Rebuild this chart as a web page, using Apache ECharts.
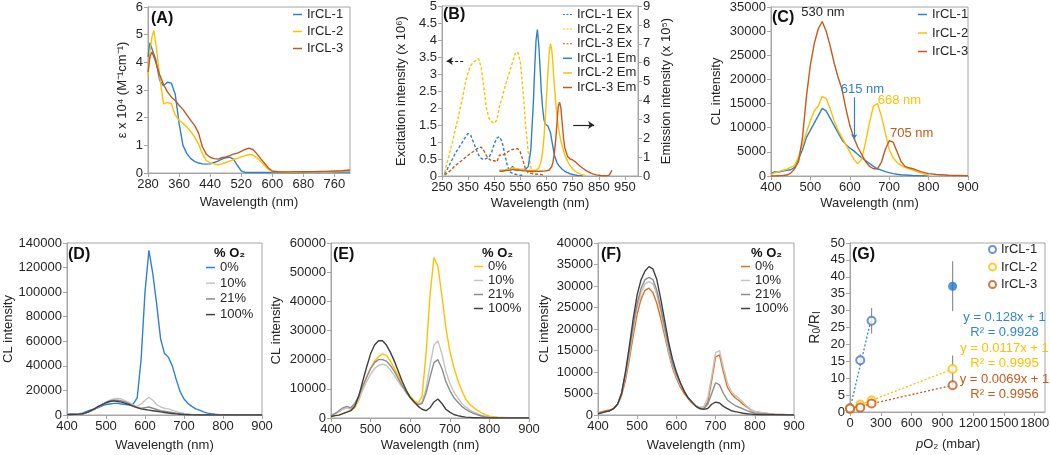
<!DOCTYPE html>
<html>
<head>
<meta charset="utf-8">
<style>
    body{ margin:0; padding:0; background:#fff; }
    #chart{ width:1050px; height:455px; }
</style>
</head>
<body>
<div id="chart"></div>
<script src="https://cdn.jsdelivr.net/npm/echarts@6/dist/echarts.min.js"></script>
<script>
// ---- (A) absorption, epsilon x 10^4 ----
var wlA = [280,285,290,295,300,310,320,330,340,350,360,370,380,390,400,410,420,430,440,450,460,470,480,490,500,510,520,530,540,550,560,570,580,590,600,620,640,660,680,700,720,740,760,780,800];
var absA1 = [4.2,4.7,4.5,4.45,4.1, 3.35,3.15,3.28,3.25,2.85,1.8,1.0,0.7,0.52,0.42, 0.36,0.33,0.32,0.33,0.38,0.43,0.5,0.55,0.57,0.5, 0.28,0.08,0.02,0.02,0.02,0.02,0.02,0.02,0.02,0.02, 0.02,0.02,0.02,0.02,0.03,0.03,0.05,0.03,0.03,0.03];
var absA2 = [3.5,4.4,4.9,5.15,4.7, 3.5,2.5,2.55,2.5,2.1,1.9,1.8,1.65,1.5,1.3, 1.05,0.7,0.45,0.37,0.33,0.3,0.33,0.38,0.43,0.48, 0.53,0.58,0.63,0.67,0.65,0.55,0.42,0.27,0.13,0.05, 0.04,0.03,0.03,0.04,0.04,0.05,0.06,0.05,0.08,0.12];
var absA3 = [3.65,4.2,4.37,4.2,4.0, 3.55,3.2,2.93,2.75,2.62,2.45,2.3,2.1,1.9,1.72, 1.45,0.95,0.68,0.57,0.52,0.5,0.55,0.58,0.63,0.68, 0.72,0.78,0.85,0.9,0.85,0.7,0.52,0.35,0.18,0.07, 0.04,0.04,0.05,0.05,0.05,0.06,0.06,0.07,0.08,0.1];

// ---- (B) excitation (x 10^6, left) and emission (x 10^5, right) ----
var wlBx = [250,260,270,280,290,300,310,320,330,340,350,360,370,380,390,400,410,420,430,440,450,460,470,480,490,500,510,520,530,540,550,560,570,580,590,600,610,620,630,640,650];
var exB1 = [null,0.05,0.2,0.35,0.5,0.65,0.78,0.9,1.02,1.15, 1.25,1.2,1.0,0.8,0.62,0.52,0.48,0.52,0.55,0.7, 0.95,1.12,1.15,1.0,0.65,0.3,0.12,0.08,0.05,0.03, 0.02,0.02,null,null,null,null,null,null,null,null,null];
var exB2 = [null,0.1,0.4,0.7,1.0,1.35,1.65,2.0,2.35,2.75, 3.05,3.25,3.35,3.4,3.45,3.2,2.6,2.0,1.7,1.6, 1.55,1.65,2.05,2.3,2.6,2.85,3.1,3.35,3.6,3.65, 3.35,2.5,1.5,0.7,0.25,0.05,null,null,null,null,null];
var exB3 = [null,0.03,0.08,0.15,0.22,0.3,0.36,0.42,0.48,0.55, 0.61,0.67,0.72,0.78,0.83,0.85,0.75,0.6,0.5,0.45, 0.45,0.42,0.62,0.6,0.65,0.7,0.75,0.78,0.8,0.8, 0.7,0.45,0.2,0.1,0.08,0.06,0.05,0.05,0.04,0.03,null];
var wlBm = [470,480,490,500,510,520,530,540,550,560,570,580,590,600, 605,610,615,620,625,630,635,640,645,650,655,660,665,670,675,680,685,690,695,700,705,710,715,720, 730,740,750,760,770,780,790,800,810,820,830,840,850,860,870,880,890,900];
var emB1 = [0.3,0.3,0.3,0.35,0.35,0.5,0.35,0.35,0.35,0.35,0.35,0.5,1.4,4.0, 5.8,7.2,7.75,7.0,5.8,4.5,3.6,3.0,2.75,2.7,2.65,2.6,2.3,1.9,1.5,1.1,0.9,0.7,0.6,0.5,0.42,0.36,0.3,0.25, 0.18,0.12,0.08,0.05,0.03,0.02,0.01,null,null,null,null,null,null,null,null,null,null,null];
var emB2 = [0.3,0.3,0.3,0.35,0.35,0.45,0.38,0.38,0.35,0.33,0.3,0.3,0.3,0.3, 0.3,0.32,0.35,0.4,0.5,0.8,1.3,2.0,3.0,4.2,5.4,6.5,7.0,6.7,5.8,4.8,3.9,3.2,2.6,2.2,1.85,1.6,1.35,1.1, 0.8,0.55,0.38,0.25,0.16,0.1,0.05,0.02,null,null,null,null,null,null,null,null,null,null];
var emB3 = [0.25,0.25,0.28,0.3,0.3,0.35,0.32,0.3,0.3,0.28,0.27,0.25,0.25,0.25, 0.25,0.25,0.25,0.25,0.25,0.25,0.25,0.26,0.27,0.28,0.3,0.32,0.38,0.5,0.75,1.2,1.9,2.8,3.7,3.9,3.6,2.8,2.0,1.5, 1.05,0.9,0.85,0.75,0.62,0.5,0.4,0.3,0.22,0.15,0.1,0.06,0.04,0.02,0.01,0.01,0.05,0.3];

// ---- (C)-(F) CL spectra, shared wavelength list ----
var wlS = [400,410,420,430,440,450,460,470,480,490,500,510,520,530,540,550,560,570,580,590,600,610,620,630,640,650,660,670,680,690,700,710,720,730,740,750,760,770,780,790,800,820,850,900];
var clC1 = [500,900,800,1000,1200,1300,1800,3500,5500,8000, 9500,11000,12500,14000,13500,12000,10500,9000,7500,6500, 5800,5200,4500,3800,3200,2600,2000,1500,1200,900, 700,500,350,250,200,150,100,80,60,40, 30,null,null,null];
var clC2 = [300,700,900,1200,1400,1800,2200,4000,6500,9000, 11500,13500,14500,16500,16000,14000,11500,9500,8000,6500, 5000,3500,2500,3500,7000,11000,14500,15000,12500,9000, 5500,3800,2800,2200,1800,1500,1200,900,600,400, 200,null,null,null];
var clC3 = [0,0,50,100,200,600,1500,3000,8000,16500, 23000,27500,30500,32000,30000,27000,23500,20500,18000,14000, 10500,8000,6000,4500,3000,2000,1500,1500,2800,5500, 7300,7000,5000,3000,2000,1700,1500,1200,900,700, 500,300,150,50];

var cdD0 = [500,800,800,1000,1500,3000,4000,5000,6000,7500, 8500,9000,9500,9500,9000,8500,8000,9000,14000,45000, 100000,134000,115000,90000,62000,50000,47000,40000,29000,19000, 13000,9500,7000,5000,4000,2500,1500,1000,600,300, 100,0,0,0];
var cdD10 = [500,500,600,800,1200,2000,3000,4500,6500,8500, 10500,12000,13000,13500,13000,11500,10000,8000,7000,9000, 12000,14500,12000,8500,6500,5500,5000,4000,3000,2000, 1200,800,400,200,100,100,50,50,0,0, 0,0,0,0];
var cdD21 = [300,400,500,700,1000,2000,3000,4500,6500,8500, 10000,11500,12000,12000,11500,10500,9000,7500,6000,5500, 6000,6500,5500,4500,3500,3000,2500,2000,1500,1000, 600,400,200,100,50,50,0,0,0,0, 0,0,0,0];
var cdD100 = [300,400,500,700,1000,2000,3500,5000,7000,8500, 10000,11000,11500,11000,10500,9500,8500,7000,6000,5000, 4500,4000,3500,3000,2500,2000,1600,1200,900,600, 400,250,100,50,0,0,0,0,0,0, 0,0,0,0];

var ceE0 = [500,800,1000,1500,2000,2500,3500,6000,10000,14000, 17000,19500,21000,22000,21500,19500,17000,14500,12000,9500, 7500,6000,5000,7500,22000,42000,55000,52000,42000,31000, 23000,17500,13000,9500,6500,4800,3600,2600,1800,1100, 600,300,100,0];
var ceE10 = [1000,1500,2000,3000,3500,3000,4000,6500,9500,12500, 15000,17000,18000,18500,18000,16500,14500,12500,10500,8500, 7000,5500,4500,5500,10000,18000,25000,26500,22000,16000, 12000,9000,7000,5000,3800,2800,2000,1400,900,500, 300,200,100,0];
var ceE21 = [800,1500,2500,3500,4000,3500,5000,7500,11000,14000, 17000,19000,20000,20000,19500,18000,16000,13500,11000,9000, 7000,5500,4500,5000,8500,14000,19000,20000,17000,12500, 9500,7000,5500,4000,3000,2200,1600,1100,700,400, 200,100,50,0];
var ceE100 = [500,800,1000,1500,2000,2500,4000,7500,12500,17500, 22000,25000,26500,26500,25000,22500,19500,16000,12500,9500, 7000,5500,4000,3000,2500,3500,5500,6500,5000,3000, 2000,1200,800,500,300,200,100,100,50,0, 0,0,0,0];

var cfF0 = [500,800,1000,1200,1500,2500,4500,8000,13000,18500, 23500,27000,29000,29500,28500,26000,22500,18500,14500,11000, 8500,6500,5000,3800,2800,2000,1500,1500,3000,8000, 13500,14000,10000,6500,5000,4000,3300,2500,1800,1200, 800,500,200,0];
var cfF10 = [300,600,800,1000,1500,2500,5000,9000,14000,20000, 25000,28500,30500,31000,30500,28000,24000,19500,15000,11500, 9000,7000,5500,4000,3000,2200,1800,2000,4000,9000, 14500,15000,11000,7500,5500,4500,3800,3000,2000,1300, 800,500,200,0];
var cfF21 = [300,600,800,1000,1500,2500,5000,9500,15000,21000, 26000,29500,31500,32000,31500,29000,25000,20500,16000,12000, 9500,7500,5500,4000,3000,2000,1500,1500,2500,5000, 7500,7000,5000,3500,2800,2200,1800,1400,1000,700, 400,300,100,0];
var cfF100 = [300,500,800,1000,1500,2500,5000,10000,16000,22500, 28000,31500,33500,34500,34000,31500,27000,22000,17000,13000, 10000,7500,5500,4000,3000,2000,1500,1300,1500,2500, 3000,2800,2000,1500,1000,800,600,400,300,200, 100,50,50,0];

// ---- (G) Stern-Volmer ----
var pO2G1 = [0, 100, 210];
var rG1 = [1, 15.3, 27];
var errG1 = [0.3, 1.8, 3.8];
var pO2G1b = [1000];
var rG1b = [37.2];
var errG1b = [7.4];
var pO2G = [0, 100, 210, 1000];
var rG2 = [1, 2.2, 3.4, 12.7];
var errG2 = [0.2, 0.6, 1.3, 4];
var rG3 = [1, 1.3, 2.5, 7.9];
var errG3 = [0.2, 0.4, 0.8, 1.1];
var trendX1 = [0, 210], trendY1 = [1, 27.9];
var trendX2 = [0, 1000], trendY2 = [1, 12.7];
var trendX3 = [0, 1000], trendY3 = [1, 7.9];
var ticksG = [0, 300, 600, 900, 1200, 1500, 1800];
</script>
<script>
var FONT = 'Liberation Sans, Arial, Helvetica, sans-serif';
var TXT = '#262626';
var AX = '#a6a6a6';
var BLUE = '#2f80d0', YEL = '#ffc000', ORG = '#c55a1a', ORGF = '#e2701f';
var G10 = '#c4c4c4', G21 = '#8c8c8c', G100 = '#404040';
var FS = 13;
var DASH_ICON = 'path://M0,0h2v1h-2zM3.5,0h2v1h-2zM7,0h2v1h-2z';

function pairs(xs, ys){
    var out = [];
    for (var i = 0; i < xs.length; i++){
        if (ys[i] !== null && ys[i] !== undefined) out.push([xs[i], ys[i]]);
    }
    return out;
}
function errRows(xs, ys, es){
    var out = [];
    for (var i = 0; i < xs.length; i++) out.push([xs[i], ys[i] - es[i], ys[i] + es[i]]);
    return out;
}
function merge(a, b){
    for (var k in b){
        if (b[k] && typeof b[k] === 'object' && !Array.isArray(b[k]) && a[k] && typeof a[k] === 'object'){
            merge(a[k], b[k]);
        } else a[k] = b[k];
    }
    return a;
}
function plain(v){ return String(v); }
function baseAxis(){
    return {
        type: 'value',
        nameLocation: 'middle',
        nameMoveOverlap: false,
        nameTextStyle: { color: TXT, fontSize: FS, fontFamily: FONT },
        axisLine: { show: true, onZero: false, lineStyle: { color: AX } },
        axisTick: { show: true, length: 4, lineStyle: { color: AX } },
        axisLabel: { color: TXT, fontSize: FS, fontFamily: FONT, margin: 5, formatter: plain, hideOverlap: false },
        splitLine: { show: false }
    };
}
function xAx(gi, min, max, extra){
    return merge(merge(baseAxis(), { gridIndex: gi, min: min, max: max, name: 'Wavelength (nm)', nameGap: 21 }), extra || {});
}
function yAx(gi, min, max, interval, name, gap, extra){
    return merge(merge(baseAxis(), { gridIndex: gi, min: min, max: max, interval: interval, name: name, nameGap: gap }), extra || {});
}
function spec(name, xi, yi, xs, ys, color, dash){
    return {
        name: name, type: 'line', xAxisIndex: xi, yAxisIndex: yi,
        data: pairs(xs, ys), symbol: 'none', showSymbol: false,
        lineStyle: { color: color, width: 1.4, type: dash ? [3, 2] : 'solid' },
        itemStyle: { color: color },
        emphasis: { disabled: true }, silent: true
    };
}
function legendAt(left, top, gap, names, opts){
    return merge({
        orient: 'vertical', left: left, top: top, itemGap: gap, itemWidth: 9, itemHeight: 1.5, padding: 0,
        icon: 'rect', data: names, selectedMode: false,
        textStyle: { color: TXT, fontSize: FS, fontFamily: FONT },
        formatter: function(n){ return n.split('|')[1]; }
    }, opts || {});
}
function renderErr(params, api){
    var p1 = api.coord([api.value(0), api.value(1)]);
    var p2 = api.coord([api.value(0), api.value(2)]);
    return { type: 'line', shape: { x1: p1[0], y1: p1[1], x2: p2[0], y2: p2[1] },
             style: { stroke: '#8f8f8f', lineWidth: 1.2, fill: null } };
}
function note(text, color, x, y){
    return { coord: [x, y], label: { show: true, formatter: text, color: color, fontSize: FS, fontFamily: FONT, lineHeight: 15 } };
}

var chart = echarts.init(document.getElementById('chart'), null, { renderer: 'canvas' });

var grids = [
    { left: 148, top: 7, width: 202, height: 166 },
    { left: 442, top: 6, width: 196, height: 170 },
    { left: 771, top: 7, width: 197, height: 169 },
    { left: 67, top: 243, width: 195, height: 172 },
    { left: 331, top: 243, width: 198, height: 175 },
    { left: 598, top: 243, width: 196, height: 172 },
    { left: 850, top: 243, width: 195, height: 169 }
];
grids.forEach(function(g){ g.show = true; g.borderColor = AX; g.borderWidth = 1; g.backgroundColor = 'transparent'; g.outerBoundsMode = 'none'; });

var ticksA = [280,360,440,520,600,680,760];
var ticksB = [250,350,450,550,650,750,850,950];
var xAxes = [
    xAx(0, 280, 800, { nameGap: 23, axisLabel: { customValues: ticksA }, axisTick: { customValues: ticksA } }),
    xAx(1, 250, 1000, { nameGap: 21, axisLabel: { customValues: ticksB }, axisTick: { customValues: ticksB } }),
    xAx(2, 400, 900, { interval: 100, nameGap: 21 }),
    xAx(3, 400, 900, { interval: 100, nameGap: 24 }),
    xAx(4, 400, 900, { interval: 100, nameGap: 21 }),
    xAx(5, 400, 900, { interval: 100, nameGap: 24 }),
    // (G): tick labels are added as graphic texts placed with convertToPixel after the first render
    xAx(6, 0, 1900, { name: '', axisLabel: { show: false }, axisTick: { customValues: ticksG } })
];

var yAxes = [
    yAx(0, 0, 6, 1, 'ε x 10⁴ (M⁻¹cm⁻¹)', 19),
    yAx(1, 0, 5, 0.5, 'Excitation intensity (x 10⁶)', 34),
    yAx(1, 0, 9, 1, 'Emission intensity (x 10⁵)', 22, { position: 'right' }),
    yAx(2, 0, 35000, 5000, 'CL intensity', 48),
    yAx(3, 0, 140000, 20000, 'CL intensity', 52),
    yAx(4, 0, 60000, 10000, 'CL intensity', 48),
    yAx(5, 0, 40000, 5000, 'CL intensity', 47),
    yAx(6, 0, 50, 5, '{n|R}{s|0}{n|/R}{s|I}', 28, {
        nameTextStyle: { rich: {
            n: { fontSize: 14, fontFamily: FONT, color: TXT },
            s: { fontSize: 10, fontFamily: FONT, color: TXT, verticalAlign: 'bottom', padding: [4, 0, 0, 0] }
        } }
    })
];

var series = [
    // (A)
    spec('A|IrCL-1', 0, 0, wlA, absA1, BLUE),
    spec('A|IrCL-2', 0, 0, wlA, absA2, YEL),
    spec('A|IrCL-3', 0, 0, wlA, absA3, ORG),
    // (B)
    spec('B|IrCL-1 Ex', 1, 1, wlBx, exB1, BLUE, true),
    merge(spec('B|IrCL-2 Ex', 1, 1, wlBx, exB2, YEL, true), {
        markLine: {
            silent: true, symbol: ['none', 'arrow'], symbolSize: 6, label: { show: false },
            lineStyle: { color: '#222', width: 1.2 },
            data: [
                [{ coord: [331, 3.38], lineStyle: { type: [3, 2] } }, { coord: [268, 3.38] }],
                [{ coord: [752, 1.5], lineStyle: { type: 'solid' } }, { coord: [832, 1.5] }]
            ]
        }
    }),
    spec('B|IrCL-3 Ex', 1, 1, wlBx, exB3, ORG, true),
    spec('B|IrCL-1 Em', 1, 2, wlBm, emB1, BLUE),
    spec('B|IrCL-2 Em', 1, 2, wlBm, emB2, YEL),
    spec('B|IrCL-3 Em', 1, 2, wlBm, emB3, ORG),
    // (C)
    merge(spec('C|IrCL-1', 2, 3, wlS, clC1, BLUE), {
        markLine: {
            silent: true, symbol: ['none', 'arrow'], symbolSize: 5, label: { show: false },
            lineStyle: { color: BLUE, width: 1.2, type: 'solid' },
            data: [[{ coord: [611, 16300] }, { coord: [611, 7600] }]]
        },
        markPoint: { silent: true, symbol: 'circle', symbolSize: 0, data: [note('615 nm', BLUE, 632, 17900)] }
    }),
    merge(spec('C|IrCL-2', 2, 3, wlS, clC2, YEL), {
        markPoint: { silent: true, symbol: 'circle', symbolSize: 0, data: [note('668 nm', YEL, 726, 15600)] }
    }),
    merge(spec('C|IrCL-3', 2, 3, wlS, clC3, ORG), {
        markPoint: { silent: true, symbol: 'circle', symbolSize: 0, data: [
            note('530 nm', TXT, 532, 33800),
            note('705 nm', ORG, 757, 8900)
        ] }
    }),
    // (D)
    spec('D|0%', 3, 4, wlS, cdD0, BLUE),
    spec('D|10%', 3, 4, wlS, cdD10, G10),
    spec('D|21%', 3, 4, wlS, cdD21, G21),
    spec('D|100%', 3, 4, wlS, cdD100, G100),
    // (E)
    spec('E|0%', 4, 5, wlS, ceE0, YEL),
    spec('E|10%', 4, 5, wlS, ceE10, G10),
    spec('E|21%', 4, 5, wlS, ceE21, G21),
    spec('E|100%', 4, 5, wlS, ceE100, G100),
    // (F)
    spec('F|0%', 5, 6, wlS, cfF0, ORGF),
    spec('F|10%', 5, 6, wlS, cfF10, G10),
    spec('F|21%', 5, 6, wlS, cfF21, G21),
    spec('F|100%', 5, 6, wlS, cfF100, G100)
];

// (G) trend lines with equations
function trend(xs, ys, color, text, tx, ty){
    return {
        type: 'line', xAxisIndex: 6, yAxisIndex: 7, data: pairs(xs, ys), symbol: 'none', silent: true,
        lineStyle: { color: color, width: 1.3, type: [2, 2] }, z: 1,
        markPoint: { silent: true, symbol: 'circle', symbolSize: 0, data: [note(text, color, tx, ty)] }
    };
}
series.push(trend(trendX1, trendY1, '#2f86d6', 'y = 0.128x + 1\nR² = 0.9928', 1505, 25.9));
series.push(trend(trendX2, trendY2, YEL, 'y = 0.0117x + 1\nR² = 0.9995', 1505, 16.7));
series.push(trend(trendX3, trendY3, ORG, 'y = 0.0069x + 1\nR² = 0.9956', 1505, 7.4));

[[pO2G1, rG1, errG1], [pO2G1b, rG1b, errG1b], [pO2G, rG2, errG2], [pO2G, rG3, errG3]].forEach(function(s){
    series.push({ type: 'custom', xAxisIndex: 6, yAxisIndex: 7, renderItem: renderErr, data: errRows(s[0], s[1], s[2]), z: 2, silent: true });
});

function pts(name, xs, ys, color, filled){
    return {
        name: name, type: 'scatter', xAxisIndex: 6, yAxisIndex: 7, data: pairs(xs, ys),
        symbol: filled ? 'circle' : 'emptyCircle', symbolSize: filled ? 9 : 8, z: 3, silent: true,
        itemStyle: { color: color, borderColor: color, borderWidth: filled ? 0 : 1.6 }
    };
}
series.push(pts('G|IrCL-1', pO2G1, rG1, '#4a78c8'));
series.push(pts('G|IrCL-1 (1000)', pO2G1b, rG1b, '#1f78d1', true));
series.push(pts('G|IrCL-2', pO2G, rG2, YEL));
series.push(pts('G|IrCL-3', pO2G, rG3, ORG));

var titleStyle = { color: '#111', fontSize: 16, fontWeight: 'bold', fontFamily: FONT };
var o2Style = { color: '#111', fontSize: FS, fontWeight: 'bold', fontFamily: FONT };
var titles = [
    { text: '(A)', left: 151, top: 11 },
    { text: '(B)', left: 443, top: 7 },
    { text: '(C)', left: 772, top: 10 },
    { text: '(D)', left: 68, top: 247 },
    { text: '(E)', left: 333, top: 247 },
    { text: '(F)', left: 601, top: 247 },
    { text: '(G)', left: 852, top: 247 }
].map(function(t){ t.padding = 0; t.textStyle = titleStyle; return t; });
[[214, 247], [482, 247], [751, 247]].forEach(function(p){
    titles.push({ text: '% O₂', left: p[0], top: p[1], padding: 0, textStyle: o2Style });
});
titles.push({
    text: '{i|p}O₂ (mbar)', left: 916, top: 438, padding: 0,
    textStyle: { color: TXT, fontSize: FS, fontWeight: 'normal', fontFamily: FONT,
        rich: { i: { fontStyle: 'italic', fontSize: FS, fontFamily: FONT, color: TXT } } }
});

var option = {
    animation: false,
    backgroundColor: '#fff',
    textStyle: { fontFamily: FONT },
    title: titles,
    legend: [
        legendAt(293, 8, 4, ['A|IrCL-1', 'A|IrCL-2', 'A|IrCL-3']),
        legendAt(563, 8, 1.6, [
            { name: 'B|IrCL-1 Ex', icon: DASH_ICON }, { name: 'B|IrCL-2 Ex', icon: DASH_ICON }, { name: 'B|IrCL-3 Ex', icon: DASH_ICON },
            'B|IrCL-1 Em', 'B|IrCL-2 Em', 'B|IrCL-3 Em']),
        legendAt(918, 8, 5.5, ['C|IrCL-1', 'C|IrCL-2', 'C|IrCL-3']),
        legendAt(206, 261, 2.7, ['D|0%', 'D|10%', 'D|21%', 'D|100%']),
        legendAt(474, 260, 1, ['E|0%', 'E|10%', 'E|21%', 'E|100%']),
        legendAt(741, 260, 1, ['F|0%', 'F|10%', 'F|21%', 'F|100%']),
        legendAt(988, 243, 4.5, ['G|IrCL-1', 'G|IrCL-2', 'G|IrCL-3'], { icon: 'emptyCircle', itemWidth: 7, itemHeight: 7 })
    ],
    grid: grids,
    xAxis: xAxes,
    yAxis: yAxes,
    series: series
};
chart.setOption(option);

// (G) x tick labels: positions come from the axis scale of grid 6
var gLabels = ticksG.map(function(v){
    var p = chart.convertToPixel({ gridIndex: 6 }, [v, 0]);
    return {
        type: 'text', x: p[0], y: p[1] + 5, zlevel: 2, z: 100, silent: true,
        style: { text: String(v), fill: TXT, fontSize: FS, fontFamily: FONT, align: 'center', verticalAlign: 'top' }
    };
});
chart.setOption({ graphic: gLabels });
</script>
</body>
</html>
